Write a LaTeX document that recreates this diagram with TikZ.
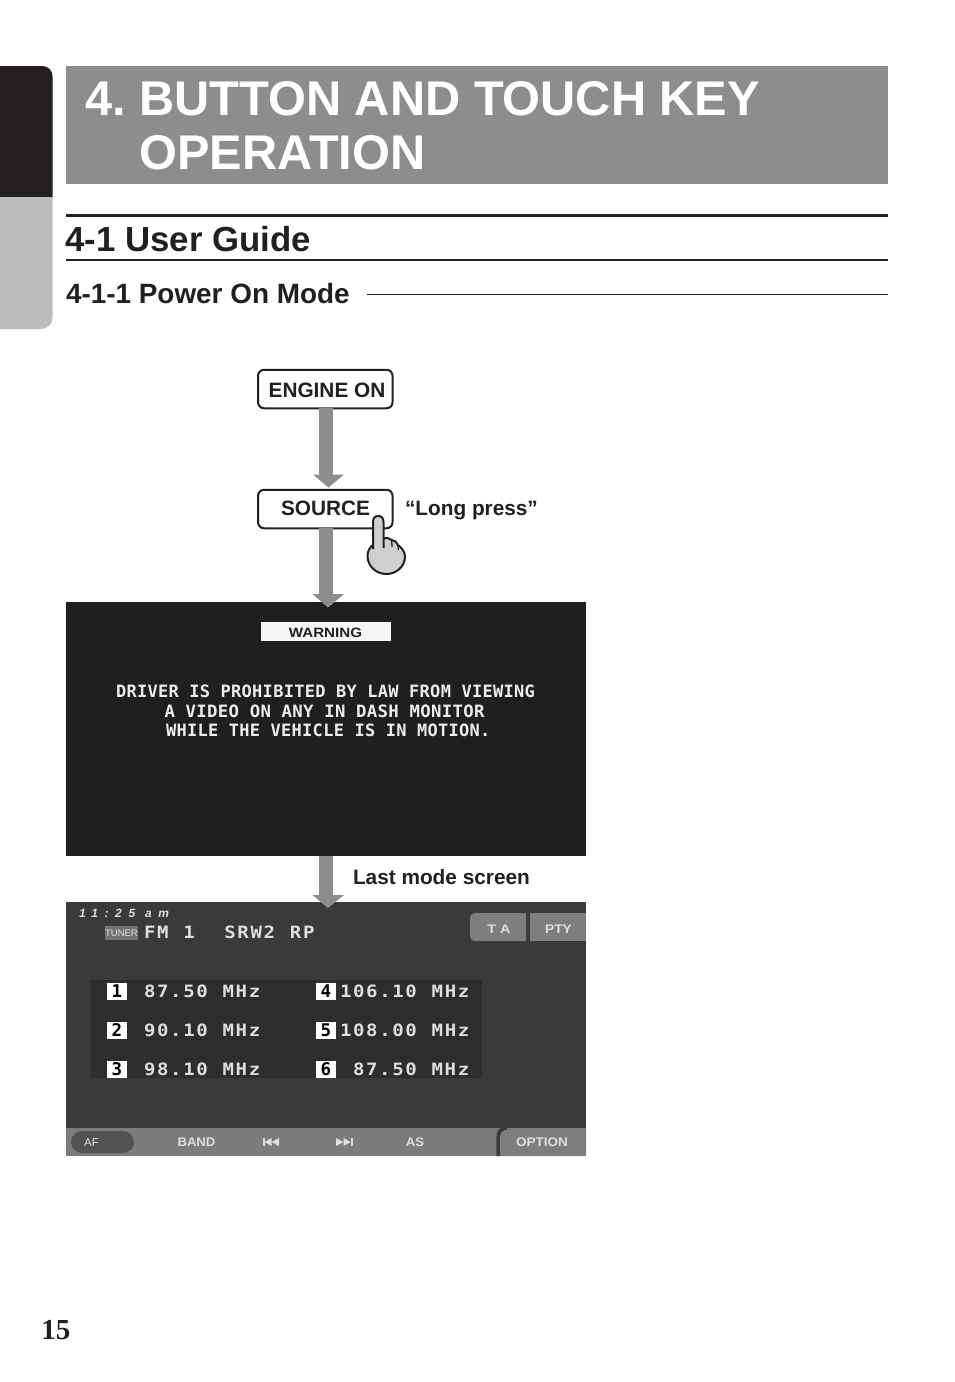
\documentclass[tikz,border=0pt]{standalone}
\usepackage{fontspec}
\usetikzlibrary{arrows.meta}
\setmainfont{Liberation Sans}
\newfontfamily\serifnum{Liberation Serif}[BoldFont={Liberation Serif Bold}]
\newfontfamily\warnmono{DejaVu Sans Mono Bold}[LetterSpace=1.7]
\newfontfamily\lcdmono{DejaVu Sans Mono Bold}[FakeStretch=1.12,LetterSpace=9.6,WordSpace=1.13]
\newfontfamily\numbold{DejaVu Sans Mono Bold}
\newfontfamily\timefont{Liberation Sans Bold Italic}[LetterSpace=55]
\newcommand{\fsz}[1]{\fontsize{#1pt}{#1pt}\selectfont}
\definecolor{bannergray}{HTML}{8E8C8D}
\definecolor{tabblack}{HTML}{231F20}
\definecolor{tabgray}{HTML}{BCBCBC}
\definecolor{handgray}{HTML}{CFCFCF}
\definecolor{screenA}{HTML}{1F1F1F}
\definecolor{screenB}{HTML}{3A3A3A}
\definecolor{panelB}{HTML}{2D2D2D}
\definecolor{barB}{HTML}{7C7C7C}
\definecolor{btnB}{HTML}{7E7E7E}
\definecolor{lcdtext}{HTML}{DEDEDE}
\tikzset{
  lbl/.style={anchor=base west,inner sep=0pt,outer sep=0pt},
  mid/.style={anchor=base,inner sep=0pt,outer sep=0pt},
  keybox/.style={draw=tabblack,line width=2pt,rounded corners=6pt,fill=white,minimum width=134.5pt,minimum height=38.5pt,inner sep=0pt,outer sep=0pt},
  keytext/.style={mid,text=tabblack,font=\bfseries\fsz{20.8}},
  shaft/.style={draw=bannergray,line width=14.2pt},
  head/.style={fill=bannergray},
  lcd/.style={lbl,text=lcdtext,font=\lcdmono\fsz{17}},
  warnline/.style={lbl,text=white!93!black,font=\warnmono\fsz{17}},
  numkey/.style={fill=white,text=black,inner sep=0pt,outer sep=0pt,minimum width=20pt,minimum height=17pt,font=\numbold\fsz{17.5}},
  softkey/.style={mid,text=lcdtext,font=\bfseries\fsz{12.5}},
  icon/.style={fill=lcdtext}
}
\begin{document}
\begin{tikzpicture}[x=1pt,y=-1pt]
\useasboundingbox (0,0) rectangle (954,1382);
\fill[white] (0,0) rectangle (954,1382);
% side tab
\fill[tabblack] (0,197) -- (0,66) -- (42.5,66) arc[start angle=90,end angle=0,x radius=10,y radius=-10] -- (52.5,197) -- cycle;
\fill[tabgray] (0,197) -- (52.5,197) -- (52.5,317) .. controls (52.5,324) and (48,329) .. (41,329) -- (0,329) -- cycle;
% banner
\fill[bannergray] (66,66) rectangle (888,184);
\node[lbl,text=white,font=\bfseries\fsz{48.7}] (t0) at (85,115.5) {4.};
\node[lbl,text=white,font=\bfseries\fsz{48.7}] (t1) at (139.5,115.5) {BUTTON AND TOUCH KEY};
\node[lbl,text=white,font=\bfseries\fsz{48.7}] (t2) at (139.5,169.5) {OPERATION};
% headings
\fill[tabblack] (66,214) rectangle (888,217);
\node[lbl,text=tabblack,font=\bfseries\fsz{34.8}] (h1) at (65.5,251) {4-1 User Guide};
\fill[tabblack] (66,259.2) rectangle (888,261);
\node[lbl,text=tabblack,font=\bfseries\fsz{27.9}] (h2) at (66,303) {4-1-1 Power On Mode};
\fill[tabblack] (367,294) rectangle (888,295);
% key boxes
\node[keybox] (engine) at (325.3,389) {};
\node[keytext] (enginetxt) at (327,397) {ENGINE ON};
\node[keybox] (source) at (325.3,509) {};
\node[keytext] (sourcetxt) at (325.5,515.5) {SOURCE};
\node[lbl,text=tabblack,font=\bfseries\fsz{20.8}] (longpress) at (405,515.5) {“Long press”};
% screen 1
\fill[screenA] (66,602) rectangle (586,856);
\node[fill=white!96!black,minimum width=130pt,minimum height=19pt,inner sep=0pt,outer sep=0pt] (warnbox) at (325.5,631.5) {};
\node[mid,text=tabblack,font=\bfseries\fsz{13.5}] (warn) at (325.5,637) {\scalebox{1.12}[1]{WARNING}};
\node[warnline] (w1) at (116,697) {DRIVER IS PROHIBITED BY LAW FROM VIEWING};
\node[warnline] (w2) at (164.5,717) {\scalebox{1.02}[1]{A VIDEO ON ANY IN DASH MONITOR}};
\node[warnline] (w3) at (166,736) {WHILE THE VEHICLE IS IN MOTION.};
% screen 2
\fill[screenB] (66,902) rectangle (586,1156);
\fill[panelB] (91,980) rectangle (482,1078);
\node[lbl,text=lcdtext,font=\timefont\fsz{12}] (clock) at (79,917) {11:25 am};
\node[fill=black!55,text=lcdtext,inner sep=0pt,outer sep=0pt,minimum width=33pt,minimum height=14pt,font=\fsz{9.5}] (tuner) at (121.5,933) {TUNER};
\node[lcd] (fm) at (144,938) {FM 1~~SRW2 RP};
% TA / PTY
\fill[btnB] (470,941) -- (476,941) -- (526,941) -- (526,913) -- (476,913) .. controls (472,913) and (470,915) .. (470,919) -- (470,935) .. controls (470,939) and (472,941) .. (476,941) -- cycle;
\fill[btnB] (530,913) rectangle (586,941);
\node[softkey] (ta) at (499,933.5) {\scalebox{1.15}[1]{T A}};
\node[softkey] (pty) at (558.5,933.5) {\scalebox{1.1}[1]{PTY}};
% presets
\node[numkey] (k1) at (117,991) {1};
\node[numkey] (k2) at (117,1030) {2};
\node[numkey] (k3) at (117,1069.5) {3};
\node[numkey] (k4) at (326,991) {4};
\node[numkey] (k5) at (326,1030) {5};
\node[numkey] (k6) at (326,1069.5) {6};
\node[lcd] (p1) at (144,997) {87.50 MHz};
\node[lcd] (p2) at (144,1036) {90.10 MHz};
\node[lcd] (p3) at (144,1075) {98.10 MHz};
\node[lcd] (p4) at (340,997) {106.10 MHz};
\node[lcd] (p5) at (340,1036) {108.00 MHz};
\node[lcd] (p6) at (353,1075) {87.50 MHz};
% bottom bar
\fill[barB] (66,1128) rectangle (586,1156);
\fill[black!68] (82,1131) -- (123,1131) arc[start angle=90,end angle=-90,x radius=11,y radius=-11] -- (82,1153) arc[start angle=270,end angle=90,x radius=11,y radius=-11] -- cycle;
\node[mid,text=lcdtext,font=\fsz{11.5}] (af) at (91.5,1146) {AF};
\node[softkey] (band) at (196.5,1146) {\scalebox{1.05}[1]{BAND}};
\fill[icon] (262.5,1138) rectangle (264.5,1146);
\fill[icon] (264.5,1142) -- (271.5,1138) -- (271.5,1146) -- cycle;
\fill[icon] (271.5,1142) -- (279,1138) -- (279,1146) -- cycle;
\fill[icon] (352.5,1138) rectangle (350.5,1146);
\fill[icon] (350.5,1142) -- (343.5,1138) -- (343.5,1146) -- cycle;
\fill[icon] (343.5,1142) -- (336,1138) -- (336,1146) -- cycle;
\node[softkey] (as) at (415,1146) {\scalebox{1.05}[1]{AS}};
\fill[btnB] (586,1128) -- (507,1128) .. controls (501,1128) and (498,1132) .. (498,1138) -- (498,1156) -- (586,1156) -- cycle;
\draw[screenB,line width=3.5pt] (507,1128) .. controls (501,1128) and (498,1132) .. (498,1138) -- (498,1156);
\node[softkey] (option) at (542,1146) {\scalebox{1.08}[1]{OPTION}};
\node[lbl,text=tabblack,font=\bfseries\fsz{20.8}] (lastmode) at (353,884) {Last mode screen};
% connectors
\draw[shaft] ([xshift=0.3pt]engine.south) -- (325.6,475);
\fill[head] (313,474.5) -- (344,474.5) -- (328.5,487.5) -- cycle;
\draw[shaft] ([xshift=0.3pt]source.south) -- (325.6,595);
\fill[head] (312.5,594) -- (344,594) -- (328,607.5) -- cycle;
\draw[shaft] (325.6,856) -- (325.6,896);
\fill[head] (312.5,895) -- (344,895) -- (328,908) -- cycle;
% hand
\fill[handgray] (373,522) .. controls (373,518) and (375,516) .. (378.3,516) .. controls (381.5,516) and (383.5,518) .. (383.5,522) -- (383.5,538) .. controls (386,537.5) and (389.5,538) .. (391.7,540) .. controls (394,540) and (397,542) .. (398,545) .. controls (401,547) and (405,552) .. (405,556) .. controls (405,567) and (396,574) .. (386.5,574) .. controls (376,574) and (367.5,566) .. (367.5,556) .. controls (367.5,551) and (370,547) .. (373,545) -- cycle;
\draw[tabblack,line width=2pt,line join=round] (373,549) -- (373,522) .. controls (373,518) and (375,516) .. (378.3,516) .. controls (381.5,516) and (383.5,518) .. (383.5,522) -- (383.5,548);
\draw[tabblack,line width=2pt,line join=round] (383.5,538) .. controls (386,537.5) and (389.5,538) .. (391.7,540) .. controls (394,540) and (397,542) .. (398,545) .. controls (401,547) and (405,552) .. (405,556) .. controls (405,567) and (396,574) .. (386.5,574) .. controls (376,574) and (367.5,566) .. (367.5,556) .. controls (367.5,551) and (370,547) .. (373,545);
\draw[tabblack,line width=1.3pt] (391.7,540) -- (392,547);
\draw[tabblack,line width=1.3pt] (398,545) -- (398.3,550);
% page number
\node[lbl,text=tabblack,font=\serifnum\bfseries\fsz{29}] (page) at (41.5,1339) {15};
\end{tikzpicture}
\end{document}
